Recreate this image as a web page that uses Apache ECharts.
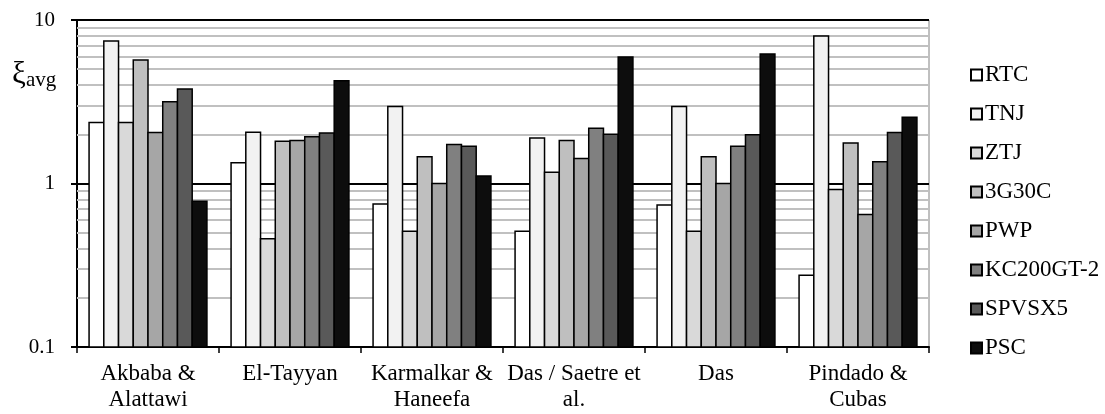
<!DOCTYPE html>
<html>
<head>
<meta charset="utf-8">
<script src="https://cdn.jsdelivr.net/npm/echarts@6/dist/echarts.min.js"></script>
<style>
  html, body { margin: 0; padding: 0; background: #fff; }
  #chart { width: 1105px; height: 414px; }
</style>
</head>
<body>
<div id="chart"></div>
<script>
var categories = ['Akbaba &\nAlattawi', 'El-Tayyan', 'Karmalkar &\nHaneefa', 'Das / Saetre et\nal.', 'Das', 'Pindado &\nCubas'];
var methods = ['RTC', 'TNJ', 'ZTJ', '3G30C', 'PWP', 'KC200GT-2', 'SPVSX5', 'PSC'];

// one array per method, values for each category
var rtc    = [2.36, 1.34, 0.75, 0.51, 0.74, 0.275];
var tnj    = [7.45, 2.06, 2.96, 1.90, 2.96, 7.99];
var ztj    = [2.36, 0.46, 0.51, 1.17, 0.51, 0.92];
var g30c   = [5.70, 1.81, 1.46, 1.83, 1.46, 1.77];
var pwp    = [2.05, 1.83, 1.00, 1.42, 1.00, 0.646];
var kc200  = [3.16, 1.93, 1.73, 2.18, 1.69, 1.36];
var spvsx5 = [3.79, 2.04, 1.69, 2.00, 1.99, 2.05];
var psc    = [0.78, 4.25, 1.11, 5.94, 6.20, 2.54];

var yTicks = [0.1, 1, 10];
var minorGrid = [0.2, 0.3, 0.4, 0.5, 0.6, 0.7, 0.8, 0.9, 2, 3, 4, 5, 6, 7, 8, 9];

var allValues = [rtc, tnj, ztj, g30c, pwp, kc200, spvsx5, psc];
var colors = ['#ffffff', '#f2f2f2', '#d9d9d9', '#bfbfbf', '#a6a6a6', '#808080', '#595959', '#0d0d0d'];

var font = "'Liberation Serif', 'Times New Roman', serif";
var groupFill = 0.83; // share of the category band used by the bars

var chart = echarts.init(document.getElementById('chart'));

// bars drawn from the axis minimum (0.1) up to the value on the log scale
function barRenderer(si) {
    return function(params, api) {
        var ci = api.value(0);
        var top = api.coord([ci, api.value(1)]);
        var base = api.coord([ci, yTicks[0]]);
        var band = api.size([1, 0])[0];
        var w = band * groupFill / methods.length;
        var x = top[0] - band * groupFill / 2 + si * w;
        return {
            type: 'rect',
            shape: { x: x, y: top[1], width: w, height: base[1] - top[1] },
            style: { fill: colors[si], stroke: '#000', lineWidth: 1.5 }
        };
    };
}

var series = methods.map(function(name, si) {
    return {
        name: name,
        type: 'custom',
        z: 3,
        renderItem: barRenderer(si),
        itemStyle: { color: colors[si], borderColor: '#000', borderWidth: 1 },
        encode: { x: 0, y: 1 },
        data: allValues[si].map(function(v, ci) { return [ci, v]; })
    };
});

// minor grid lines at 2..9 of each decade, kept under the bars
series.push({
    name: 'grid',
    type: 'line',
    z: 1,
    silent: true,
    data: [],
    markLine: {
        z: 1,
        silent: true,
        symbol: 'none',
        label: { show: false },
        lineStyle: { color: '#c0c0c0', width: 2, type: 'solid' },
        data: minorGrid.map(function(v) { return { yAxis: v }; })
    }
});

var option = {
    animation: false,
    backgroundColor: '#fff',
    textStyle: { fontFamily: font, color: '#000' },
    grid: {
        left: 77, right: 176, top: 20, bottom: 67,
        show: true, borderColor: '#808080', borderWidth: 1
    },
    legend: {
        data: methods,
        orient: 'vertical',
        left: 965,
        top: 58,
        icon: 'rect',
        itemWidth: 11,
        itemHeight: 11,
        itemGap: 15,
        textStyle: { fontFamily: font, fontSize: 23, color: '#000', lineHeight: 24, padding: [0, 0, 0, -2] }
    },
    xAxis: {
        type: 'category',
        data: categories,
        axisLine: { lineStyle: { color: '#000', width: 2 } },
        axisTick: { show: true, length: 6, lineStyle: { color: '#000', width: 1.5 } },
        axisLabel: { fontFamily: font, fontSize: 23, color: '#000', lineHeight: 26, margin: 14, interval: 0 },
        splitLine: { show: false }
    },
    yAxis: {
        type: 'log',
        logBase: 10,
        min: yTicks[0],
        max: yTicks[yTicks.length - 1],
        axisLine: { show: true, lineStyle: { color: '#000', width: 2 } },
        axisTick: { show: true, length: 6, lineStyle: { color: '#000', width: 2 } },
        axisLabel: { fontFamily: font, fontSize: 21, color: '#000', margin: 22 },
        splitLine: { show: true, lineStyle: { color: '#000', width: 2 } },
        minorTick: { show: false },
        minorSplitLine: { show: false }
    },
    graphic: [
        { type: 'text', left: 12, top: 59, style: { text: 'ξ', fontFamily: font, fontSize: 31, fill: '#000' } },
        { type: 'text', left: 26, top: 70, style: { text: 'avg', fontFamily: font, fontSize: 21, fill: '#000' } }
    ],
    series: series
};

chart.setOption(option);
</script>
</body>
</html>
